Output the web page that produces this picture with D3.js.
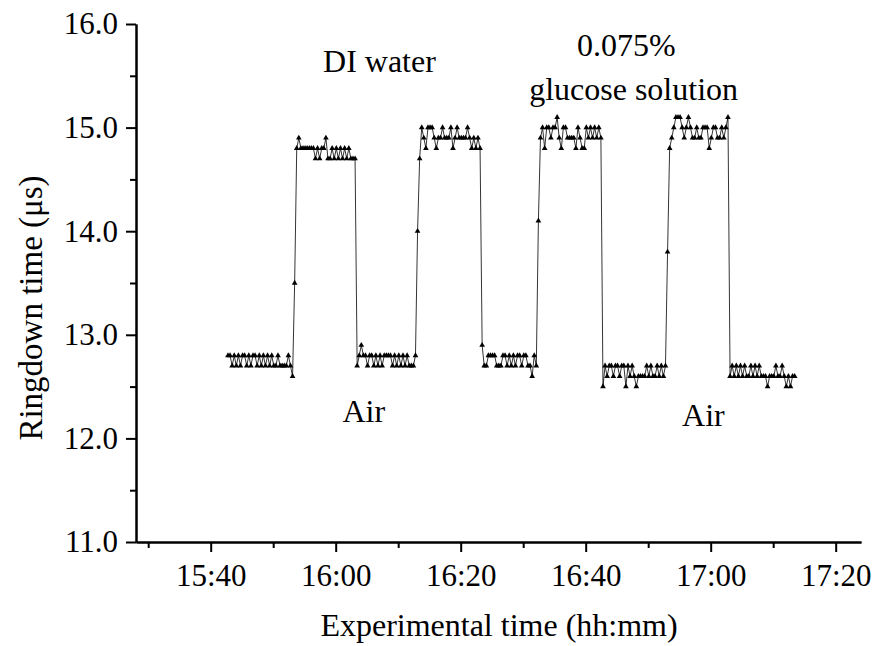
<!DOCTYPE html>
<html>
<head>
<meta charset="utf-8">
<script src="https://cdn.jsdelivr.net/npm/d3@7"></script>
<style>
  body { margin: 0; background: #fff; }
  svg text { font-family: "Liberation Serif", "DejaVu Serif", serif !important; fill: #000; }
</style>
</head>
<body>
<div id="chart"></div>
<script>
// sampling of the recorder: one reading every 20 s from the first point
var startTime = "15:42:46";
var stepSeconds = 20;

// ringdown time (us), one array per stage, in order
var air1 = [12.8,12.8,12.7,12.8,12.7,12.8,12.7,12.8,12.8,12.7,12.8,12.7,12.8,12.8,12.7,12.8,
            12.7,12.8,12.7,12.8,12.7,12.8,12.7,12.7,12.8,12.7,12.7,12.7,12.7,12.8,12.7,12.6,13.5];
var water1 = [14.8,14.9,14.8,14.8,14.8,14.8,14.8,14.8,14.8,14.7,14.8,14.7,14.8,14.8,14.9,
              14.7,14.7,14.8,14.7,14.8,14.7,14.8,14.7,14.8,14.7,14.8,14.7,14.7,14.7];
var air2 = [12.7,12.8,12.9,12.8,12.8,12.7,12.8,12.8,12.7,12.8,12.7,12.8,12.7,12.8,12.8,
            12.8,12.8,12.7,12.8,12.7,12.8,12.7,12.8,12.7,12.8,12.7,12.7,12.7,12.8,14.0,14.7];
var water2 = [15.0,14.9,14.8,15.0,15.0,15.0,14.9,14.8,14.9,14.9,15.0,14.9,14.9,14.9,15.0,
              14.8,14.9,15.0,14.9,14.9,14.9,14.9,15.0,14.9,14.8,14.9,14.8,14.9,14.8];
var air3 = [12.9,12.7,12.7,12.8,12.8,12.8,12.8,12.7,12.7,12.7,12.8,12.8,12.7,12.8,12.7,
            12.8,12.7,12.8,12.8,12.7,12.8,12.8,12.7,12.7,12.6,12.8,12.7,14.1];
var glucose1 = [14.9,15.0,14.8,15.0,15.0,14.9,15.0,15.0,15.1,14.9,14.8,15.0,15.0,14.9,14.9,
                14.9,14.9,14.8,15.0,14.9,14.8,14.8,15.0,14.9,15.0,14.9,15.0,14.9,15.0,14.9];
var air4 = [12.5,12.7,12.6,12.7,12.7,12.6,12.7,12.7,12.6,12.7,12.7,12.5,12.7,12.6,12.7,12.6,
            12.5,12.6,12.6,12.6,12.6,12.7,12.6,12.7,12.6,12.6,12.7,12.6,12.7,12.6,12.7,13.8,14.8];
var glucose2 = [14.9,15.0,15.1,15.1,15.1,15.0,14.9,15.0,15.1,15.0,14.9,14.9,15.0,14.9,14.9,
                15.0,15.0,15.0,14.8,14.9,15.0,15.0,14.9,14.9,15.0,14.9,15.0,15.1];
var air5 = [12.6,12.7,12.6,12.7,12.6,12.7,12.6,12.7,12.6,12.6,12.7,12.6,12.7,12.6,12.7,12.6,
            12.6,12.6,12.5,12.6,12.6,12.6,12.7,12.6,12.6,12.7,12.6,12.5,12.6,12.5,12.6,12.6];

var xTicks = ["15:40","16:00","16:20","16:40","17:00","17:20"];
var xMinorTicks = ["15:30","15:50","16:10","16:30","16:50","17:10"];
var yTicks = [11, 12, 13, 14, 15, 16];
var yMinorTicks = [11.5, 12.5, 13.5, 14.5, 15.5];

var notes = [
  {text: "DI water", t: "16:07:00", v: 15.54},
  {text: "0.075%", t: "16:46:30", v: 15.69},
  {text: "glucose solution", t: "16:47:40", v: 15.27},
  {text: "Air", t: "16:04:30", v: 12.16},
  {text: "Air", t: "16:58:50", v: 12.12}
];

function init(){
    var w = 876, h = 646;
    var left = 136, right = 861, top = 24, bottom = 542;

    var parse = d3.timeParse("%H:%M:%S");
    var parseHM = d3.timeParse("%H:%M");

    var values = [].concat(air1, water1, air2, water2, air3, glucose1, air4, glucose2, air5);
    var t0 = parse(startTime);
    var data = values.map(function(v, i){
        return {t: new Date(t0.getTime() + i * stepSeconds * 1000), v: v};
    });

    var xScale = d3.scaleTime()
      .domain([parse("15:28:03"), parse("17:24:03")])
      .range([left, right]);

    var yScale = d3.scaleLinear()
      .domain([11, 16])
      .range([bottom, top]);

    var svg = d3.select("#chart")
      .append("svg")
      .attr("width", w)
      .attr("height", h)
      .attr("font-family", "Liberation Serif, DejaVu Serif, serif");

    // minor ticks first, majors and the axis line on top
    var xMinor = d3.axisBottom(xScale)
      .tickValues(xMinorTicks.map(parseHM))
      .tickSize(6).tickFormat("").tickSizeOuter(0);
    var yMinor = d3.axisLeft(yScale)
      .tickValues(yMinorTicks)
      .tickSize(6).tickFormat("").tickSizeOuter(0);

    var xAxis = d3.axisBottom(xScale)
      .tickValues(xTicks.map(parseHM))
      .tickFormat(d3.timeFormat("%H:%M"))
      .tickSize(10).tickPadding(12).tickSizeOuter(0);
    var yAxis = d3.axisLeft(yScale)
      .tickValues(yTicks)
      .tickFormat(d3.format(".1f"))
      .tickSize(10).tickPadding(8).tickSizeOuter(0);

    var gxm = svg.append("g").attr("transform", "translate(0," + bottom + ")").call(xMinor);
    var gym = svg.append("g").attr("transform", "translate(" + left + ",0)").call(yMinor);
    var gx = svg.append("g").attr("transform", "translate(0," + bottom + ")").call(xAxis);
    var gy = svg.append("g").attr("transform", "translate(" + left + ",0)").call(yAxis);

    [gxm, gym, gx, gy].forEach(function(g){
        g.attr("font-family", null);
        g.selectAll("path, line").attr("stroke", "#000").attr("stroke-width", 2);
        g.selectAll("text")
          .attr("font-size", 31)
          .attr("fill", "#000");
    });

    // data line
    var line = d3.line()
      .x(function(d){ return xScale(d.t); })
      .y(function(d){ return yScale(d.v); });

    svg.append("path")
      .datum(data)
      .attr("d", line)
      .attr("fill", "none")
      .attr("stroke", "#000")
      .attr("stroke-width", 0.8);

    // triangle markers
    var tri = d3.symbol().type(d3.symbolTriangle).size(14);
    svg.selectAll("path.pt")
      .data(data)
      .enter()
      .append("path")
      .attr("class", "pt")
      .attr("d", tri)
      .attr("transform", function(d){
        return "translate(" + xScale(d.t) + "," + yScale(d.v) + ")";
      })
      .attr("fill", "#000");

    // annotations
    svg.selectAll("text.note")
      .data(notes)
      .enter()
      .append("text")
      .attr("class", "note")
      .attr("x", function(d){ return xScale(parse(d.t)); })
      .attr("y", function(d){ return yScale(d.v); })
      .attr("text-anchor", "middle")
      .attr("font-size", 32)
      .text(function(d){ return d.text; });

    // axis titles
    svg.append("text")
      .attr("x", 499)
      .attr("y", 636)
      .attr("text-anchor", "middle")
      .attr("font-size", 32)
      .text("Experimental time (hh:mm)");

    svg.append("text")
      .attr("transform", "translate(42," + 308 + ") rotate(-90)")
      .attr("text-anchor", "middle")
      .attr("font-size", 33)
      .text("Ringdown time (μs)");
}

window.onload = init;
</script>
</body>
</html>
